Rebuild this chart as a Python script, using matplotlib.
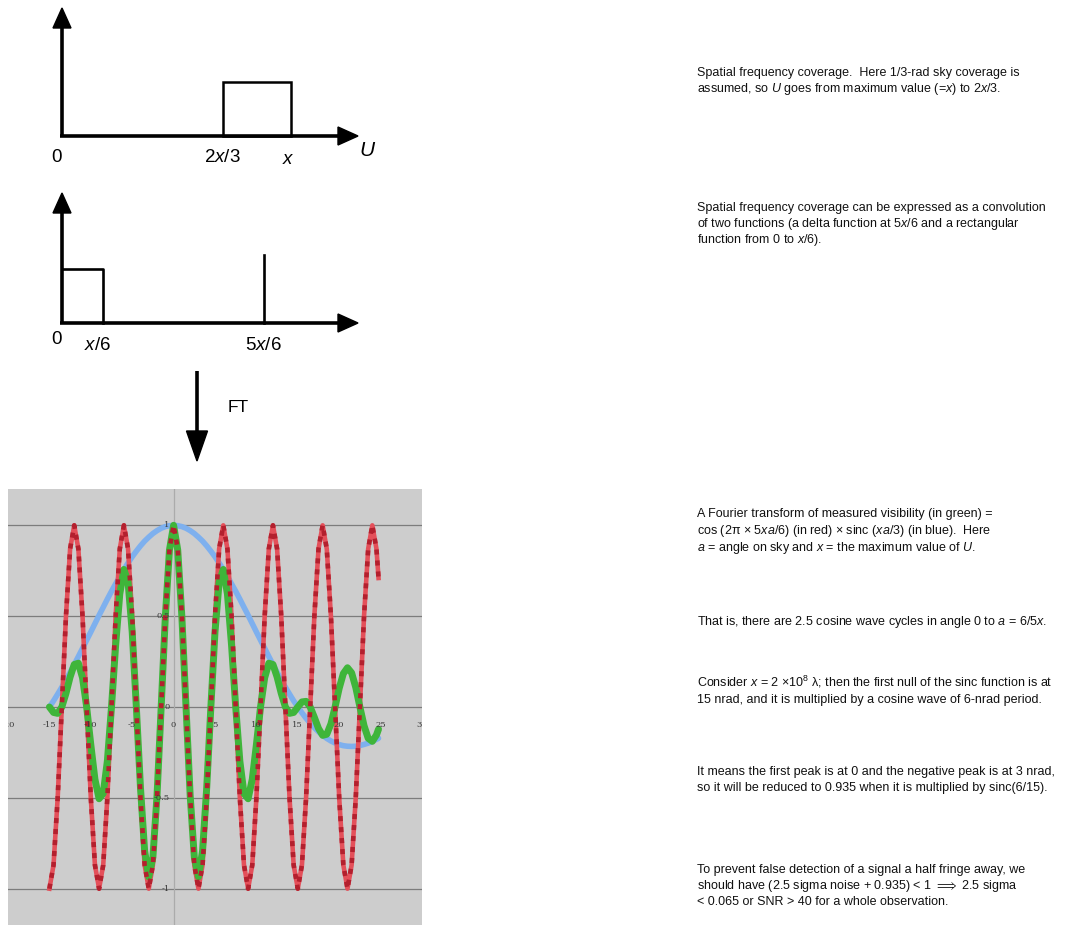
import matplotlib.pyplot as plt
from matplotlib.patches import Polygon, Rectangle

plt.rcParams['font.family'] = ['Liberation Sans', 'DejaVu Sans']
plt.rcParams['mathtext.fontset'] = 'custom'
plt.rcParams['mathtext.rm'] = 'Liberation Sans'
plt.rcParams['mathtext.it'] = 'Liberation Sans:italic'

# angle on sky (nrad)
angle = [-15, -14.5, -14, -13.5, -13, -12.5, -12, -11.5, -11, -10.5,
         -10, -9.5, -9, -8.5, -8, -7.5, -7, -6.5, -6, -5.5,
         -5, -4.5, -4, -3.5, -3, -2.5, -2, -1.5, -1, -0.5,
         0, 0.5, 1, 1.5, 2, 2.5, 3, 3.5, 4, 4.5,
         5, 5.5, 6, 6.5, 7, 7.5, 8, 8.5, 9, 9.5,
         10, 10.5, 11, 11.5, 12, 12.5, 13, 13.5, 14, 14.5,
         15, 15.5, 16, 16.5, 17, 17.5, 18, 18.5, 19, 19.5,
         20, 20.5, 21, 21.5, 22, 22.5, 23, 23.5, 24, 24.5, 24.75]

# red: cosine wave
cos_red = [-1, -0.87, -0.5, 0, 0.5, 0.87,
           1, 0.87, 0.5, 0, -0.5, -0.87, -1, -0.87, -0.5, 0, 0.5, 0.87,
           1, 0.87, 0.5, 0, -0.5, -0.87, -1, -0.87, -0.5, 0, 0.5, 0.87,
           1, 0.87, 0.5, 0, -0.5, -0.87, -1, -0.87, -0.5, 0, 0.5, 0.87,
           1, 0.87, 0.5, 0, -0.5, -0.87, -1, -0.87, -0.5, 0, 0.5, 0.87,
           1, 0.87, 0.5, 0, -0.5, -0.87, -1, -0.87, -0.5, 0, 0.5, 0.87,
           1, 0.87, 0.5, 0, -0.5, -0.87, -1, -0.87, -0.5, 0, 0.5, 0.87,
           1, 0.87, 0.71]

# blue: sinc envelope
sinc_blue = [0, 0.034, 0.071, 0.109, 0.149, 0.191, 0.234, 0.278, 0.323, 0.368,
             0.413, 0.459, 0.505, 0.549, 0.594, 0.637, 0.678, 0.719, 0.757, 0.793,
             0.827, 0.858, 0.887, 0.913, 0.935, 0.955, 0.971, 0.984, 0.993, 0.998,
             1, 0.998, 0.993, 0.984, 0.971, 0.955, 0.935, 0.913, 0.887, 0.858,
             0.827, 0.793, 0.757, 0.719, 0.678, 0.637, 0.594, 0.549, 0.505, 0.459,
             0.413, 0.368, 0.323, 0.278, 0.234, 0.191, 0.149, 0.109, 0.071, 0.034,
             0, -0.032, -0.062, -0.089, -0.114, -0.136, -0.156, -0.173, -0.187, -0.198,
             -0.207, -0.213, -0.216, -0.217, -0.216, -0.212, -0.206, -0.199, -0.189, -0.178,
             -0.172]

# green: measured visibility
vis_green = [0, -0.030, -0.035, 0, 0.075, 0.165, 0.234, 0.241, 0.161, 0,
             -0.207, -0.398, -0.505, -0.476, -0.297, 0, 0.339, 0.622, 0.757, 0.687,
             0.413, 0, -0.444, -0.791, -0.935, -0.827, -0.486, 0, 0.496, 0.864,
             1, 0.864, 0.496, 0, -0.486, -0.827, -0.935, -0.791, -0.444, 0,
             0.413, 0.687, 0.757, 0.622, 0.339, 0, -0.297, -0.476, -0.505, -0.398,
             -0.207, 0, 0.161, 0.241, 0.234, 0.165, 0.075, 0, -0.035, -0.030,
             0, 0.028, 0.031, 0, -0.057, -0.118, -0.156, -0.150, -0.093, 0,
             0.103, 0.184, 0.216, 0.188, 0.108, 0, -0.103, -0.172, -0.189, -0.154,
             -0.122]

x_ticks = [-20, -15, -10, -5, 0, 5, 10, 15, 20, 25, 30]
x_tick_labels = ['-20', '-15', '-10', '-5', '0', '5', '10', '15', '20', '25', '30']
y_ticks = [1, 0.5, 0, -0.5, -1]
y_tick_labels = ['1', '0.5', '0', '-0.5', '-1']

W, H = 1065, 934
fig = plt.figure(figsize=(W / 100, H / 100), dpi=100)

# overlay in pixel coordinates for the sketches and notes
ov = fig.add_axes([0, 0, 1, 1])
ov.set_xlim(0, W)
ov.set_ylim(H, 0)
ov.axis('off')


def arrow(x0, y0, x1, y1, hw=9, hl=20):
    # straight arrow, axis-aligned
    if x0 == x1:
        d = 1 if y1 > y0 else -1
        ov.plot([x0, x1], [y0, y1 - d * hl], color='black', lw=2.6, solid_capstyle='butt')
        ov.add_patch(Polygon([[x1, y1], [x1 - hw, y1 - d * hl], [x1 + hw, y1 - d * hl]],
                             closed=True, color='black'))
    else:
        ov.plot([x0, x1 - hl], [y0, y1], color='black', lw=2.6, solid_capstyle='butt')
        ov.add_patch(Polygon([[x1, y1], [x1 - hl, y1 - hw], [x1 - hl, y1 + hw]],
                             closed=True, color='black'))


lfs = 13.5
# sketch 1: coverage from 2x/3 to x
arrow(62, 137, 62, 8)
arrow(60, 136, 358, 136)
ov.add_patch(Rectangle((223, 82), 68, 54, fill=False, lw=1.8, ec='black'))
ov.text(57, 158, '0', fontsize=lfs, ha='center', va='center')
ov.text(222, 158, '2$x$/3', fontsize=lfs, ha='center', va='center')
ov.text(288, 160, '$x$', fontsize=lfs, ha='center', va='center')
ov.text(368, 151, '$U$', fontsize=lfs + 1.5, ha='center', va='center')

# sketch 2: rectangle convolved with delta
arrow(62, 324, 62, 193)
arrow(60, 323, 358, 323)
ov.plot([62, 103, 103], [269, 269, 323], color='black', lw=1.9)
ov.plot([264, 264], [255, 323], color='black', lw=1.9)
ov.text(57, 340, '0', fontsize=lfs, ha='center', va='center')
ov.text(97, 345, '$x$/6', fontsize=lfs, ha='center', va='center')
ov.text(263, 345, '5$x$/6', fontsize=lfs, ha='center', va='center')

# FT arrow
arrow(197, 371, 197, 461, hw=10.5, hl=30)
ov.text(238, 408, 'FT', fontsize=12.5, ha='center', va='center')

notes = [
    (71, 'Spatial frequency coverage.  Here 1/3-rad sky coverage is'),
    (87, 'assumed, so $U$ goes from maximum value (=$x$) to 2$x$/3.'),
    (206, 'Spatial frequency coverage can be expressed as a convolution'),
    (222, 'of two functions (a delta function at 5$x$/6 and a rectangular'),
    (238, 'function from 0 to $x$/6).'),
    (512, 'A Fourier transform of measured visibility (in green) ='),
    (529, 'cos (2π × 5$xa$/6) (in red) × sinc ($xa$/3) (in blue).  Here'),
    (546, '$a$ = angle on sky and $x$ = the maximum value of $U$.'),
    (620, 'That is, there are 2.5 cosine wave cycles in angle 0 to $a$ = 6/5$x$.'),
    (681, 'Consider $x$ = 2 ×10$^8$ λ; then the first null of the sinc function is at'),
    (698, '15 nrad, and it is multiplied by a cosine wave of 6-nrad period.'),
    (770, 'It means the first peak is at 0 and the negative peak is at 3 nrad,'),
    (786, 'so it will be reduced to 0.935 when it is multiplied by sinc(6/15).'),
    (868, 'To prevent false detection of a signal a half fringe away, we'),
    (884, r'should have (2.5 sigma noise + 0.935) < 1 $\Longrightarrow$ 2.5 sigma'),
    (900, '< 0.065 or SNR > 40 for a whole observation.'),
]
for y, s in notes:
    ov.text(697, y + 5, s, fontsize=9.0, ha='left', va='baseline', color='#111111')

# the chart
ax = fig.add_axes([8 / W, (H - 925) / H, 414 / W, 436 / H])
ax.set_facecolor('#cdcdcd')
ax.set_xlim(-20, 30)
ax.set_ylim(-1.2, 1.2)
for s in ax.spines.values():
    s.set_visible(False)
ax.set_xticks([])
ax.set_yticks([])
for yv in y_ticks:
    ax.axhline(yv, color='#7c7c7c', lw=0.9, zorder=1)
ax.axvline(0, color='#ababab', lw=0.9, zorder=1)

ax.plot(angle, sinc_blue, color='#7eb0ee', lw=4.0, zorder=2, solid_capstyle='round')
ax.plot(angle, cos_red, color='#e4505a', lw=3.3, zorder=3)
ax.plot(angle, vis_green, color='#3fb53a', lw=5.0, zorder=4, solid_capstyle='round')
ax.plot(angle, cos_red, color='#b3202e', lw=3.3, zorder=5, dashes=(1.1, 1.3))

for xv, lab in zip(x_ticks, x_tick_labels):
    ax.text(xv, -0.1, lab, fontsize=6, family='DejaVu Serif', color='#3a3a3a',
            ha='center', va='center', clip_on=True, zorder=6)
for yv, lab in zip(y_ticks, y_tick_labels):
    ax.text(-0.5, yv, lab, fontsize=6, family='DejaVu Serif', color='#3a3a3a',
            ha='right', va='center', zorder=6)

fig.savefig('out.png', dpi=100)
